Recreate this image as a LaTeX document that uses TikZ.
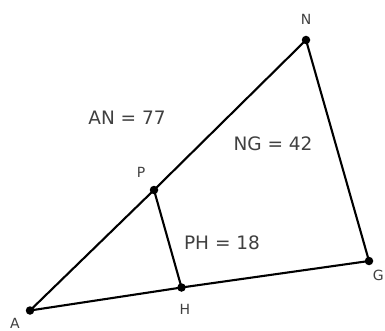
\documentclass[tikz,border=0pt]{standalone}
\usepackage{fontspec}
\setmainfont{DejaVu Sans}
\begin{document}
\begin{tikzpicture}[x=1pt,y=-1pt,
  seg/.style={line width=2.1pt, black},
  dot/.style={circle, fill=black, inner sep=0pt, minimum size=8.5pt},
  ptlabel/.style={text=black!75, font=\fontsize{14}{16}\selectfont, inner sep=0pt},
  measure/.style={text=black!75, font=\fontsize{18.5}{20}\selectfont, inner sep=0pt}]
\useasboundingbox (0,0) rectangle (385,331);
\fill[white] (0,0) rectangle (385,331);
\coordinate (A) at (30,310.5);
\coordinate (N) at (306,40);
\coordinate (G) at (369,261);
\coordinate (P) at (154,190);
\coordinate (H) at (181.5,287.5);
\draw[seg, line join=round] (A) -- (P) -- (N) -- (G) -- (H) -- cycle;
\draw[seg] (P) -- (H);
\foreach \p in {A,N,G,P,H} \node[dot] (d\p) at (\p) {};
\node[ptlabel] (lA) at (15,323) {A};
\node[ptlabel] (lN) at (306,19) {N};
\node[ptlabel, anchor=east] (lG) at (384,275.5) {G};
\node[ptlabel] (lP) at (141,172.5) {P};
\node[ptlabel] (lH) at (185,309) {H};
\node[measure] (an) at (127,118) {AN = 77};
\node[measure] (ng) at (273,144) {NG = 42};
\node[measure] (ph) at (222,243) {PH = 18};
\end{tikzpicture}
\end{document}
